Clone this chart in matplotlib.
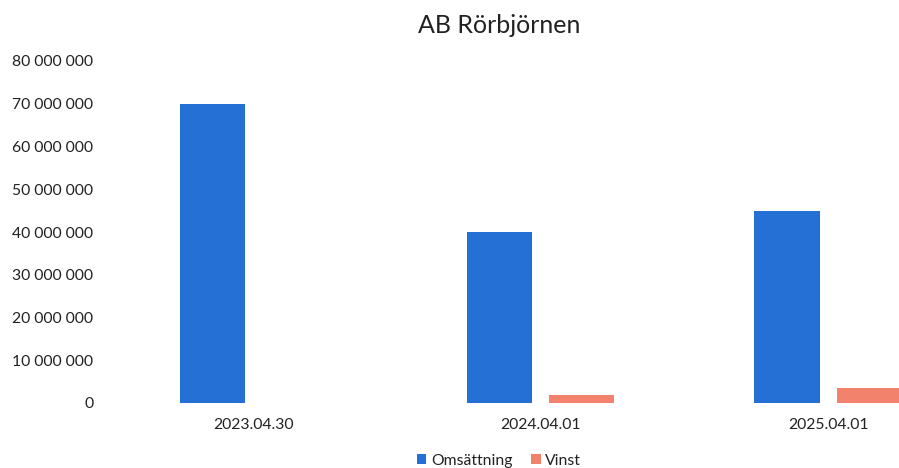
import matplotlib.pyplot as plt
import numpy as np

categories = ['2023.04.30', '2024.04.01', '2025.04.01']
omsattning = [70000000, 40000000, 45000000]
vinst = [0, 1900000, 3500000]
yticks = [0, 10000000, 20000000, 30000000, 40000000, 50000000, 60000000, 70000000, 80000000]

plt.rcParams['font.family'] = ['Lato', 'DejaVu Sans']

fig = plt.figure(figsize=(8.99, 4.68), dpi=100)
ax = fig.add_axes([110 / 899, 65 / 468, 1 - 110 / 899, (403 - 61) / 468])

x = np.arange(len(categories))
w = 0.2265
off = 0.143
ax.bar(x - off, omsattning, w, color='#2470d4', label='Omsättning')
ax.bar(x + off, vinst, w, color='#f2826b', label='Vinst')

ax.set_xlim(-0.5, 2.247)
ax.set_ylim(0, 80000000)
ax.set_yticks(yticks)
ax.set_yticklabels([f'{v:,}'.replace(',', ' ') for v in yticks])
ax.set_xticks(x)
ax.set_xticklabels(categories)
ax.tick_params(length=0, labelsize=11.3, colors='#222222')
ax.tick_params(axis='y', pad=12)
ax.tick_params(axis='x', pad=11)
for s in ax.spines.values():
    s.set_visible(False)

fig.text(0.555, 0.945, 'AB Rörbjörnen', ha='center', va='center', fontsize=18, color='#222222')
fig.legend(loc='center', bbox_to_anchor=(0.555, 0.015), ncol=2, frameon=False,
           fontsize=11.3, handlelength=0.6, handleheight=0.6, handletextpad=0.3,
           columnspacing=1.2, labelcolor='#222222')

plt.savefig('out.png', dpi=100)
